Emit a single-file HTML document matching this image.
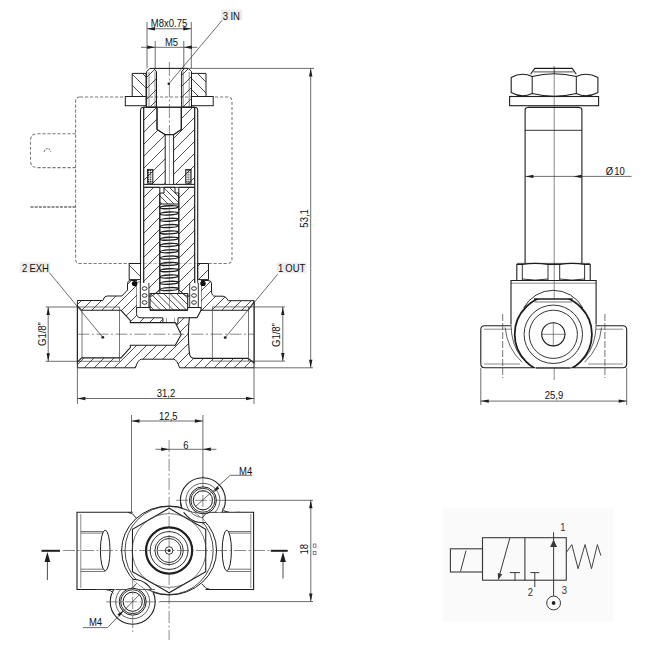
<!DOCTYPE html>
<html><head><meta charset="utf-8"><style>
html,body{margin:0;padding:0;background:#fff;}
svg{display:block;font-family:"Liberation Sans",sans-serif;}
</style></head><body>
<svg width="657" height="650" viewBox="0 0 657 650">
<defs><pattern id="dots" width="2.2" height="2.2" patternUnits="userSpaceOnUse"><circle cx="1.1" cy="1.1" r="0.75" fill="#111"/></pattern></defs>
<path d="M80,97 H227.5 Q232,97 232,101.5 V259 Q232,263.5 227.5,263.5 H80 Q75.6,263.5 75.6,259 V101.5 Q75.6,97 80,97 Z" stroke="#7a7a7a" stroke-width="1.05" fill="none" stroke-dasharray="3.2,1.8" />
<path d="M75.6,133.8 H37.5 Q30.5,133.8 30.5,140.8 V160.6 Q30.5,167.6 37.5,167.6 H75.6" stroke="#7a7a7a" stroke-width="1.05" fill="none" stroke-dasharray="3.2,1.8" />
<path d="M44.3,151.8 A3.2,3.2 0 1 1 50.7,151.8" stroke="#555" stroke-width="1.0" fill="none" stroke-dasharray="2,1" />
<line x1="30.50" y1="207.00" x2="75.60" y2="207.00" stroke="#707070" stroke-width="1.6" stroke-dasharray="3,1.2" stroke-linecap="butt"/>
<path d="M140.5,263.5 V110.5 Q140.5,107.2 143.7,107.2 H194.5 Q197.7,107.2 197.7,110.5 V263.5" stroke="#1e1e1e" stroke-width="1.1" fill="#fff" />
<line x1="143.70" y1="107.20" x2="143.70" y2="300.00" stroke="#3c3c3c" stroke-width="0.8" stroke-linecap="butt"/>
<line x1="194.70" y1="107.20" x2="194.70" y2="300.00" stroke="#3c3c3c" stroke-width="0.8" stroke-linecap="butt"/>
<clipPath id="h1"><path d="M143.7,107.2 H157 V129.5 L165.2,134.6 V184.4 H143.7 Z"/></clipPath><g clip-path="url(#h1)"><line x1="134.8" y1="105.2" x2="53.6" y2="186.4" stroke="#3c3c3c" stroke-width="0.9"/><line x1="146.8" y1="105.2" x2="65.6" y2="186.4" stroke="#3c3c3c" stroke-width="0.9"/><line x1="158.8" y1="105.2" x2="77.6" y2="186.4" stroke="#3c3c3c" stroke-width="0.9"/><line x1="170.8" y1="105.2" x2="89.6" y2="186.4" stroke="#3c3c3c" stroke-width="0.9"/><line x1="182.8" y1="105.2" x2="101.6" y2="186.4" stroke="#3c3c3c" stroke-width="0.9"/><line x1="194.8" y1="105.2" x2="113.6" y2="186.4" stroke="#3c3c3c" stroke-width="0.9"/><line x1="206.8" y1="105.2" x2="125.6" y2="186.4" stroke="#3c3c3c" stroke-width="0.9"/><line x1="218.8" y1="105.2" x2="137.6" y2="186.4" stroke="#3c3c3c" stroke-width="0.9"/><line x1="230.8" y1="105.2" x2="149.6" y2="186.4" stroke="#3c3c3c" stroke-width="0.9"/><line x1="242.8" y1="105.2" x2="161.6" y2="186.4" stroke="#3c3c3c" stroke-width="0.9"/><line x1="254.8" y1="105.2" x2="173.6" y2="186.4" stroke="#3c3c3c" stroke-width="0.9"/></g>
<path d="M143.7,107.2 H157 V129.5 L165.2,134.6 V184.4 H143.7 Z" stroke="#1e1e1e" stroke-width="1.0" fill="none" />
<clipPath id="h2"><path d="M181.3,107.2 H194.7 V184.4 H173.6 V134.6 L181.3,129.5 Z"/></clipPath><g clip-path="url(#h2)"><line x1="170.8" y1="105.2" x2="89.6" y2="186.4" stroke="#3c3c3c" stroke-width="0.9"/><line x1="182.8" y1="105.2" x2="101.6" y2="186.4" stroke="#3c3c3c" stroke-width="0.9"/><line x1="194.8" y1="105.2" x2="113.6" y2="186.4" stroke="#3c3c3c" stroke-width="0.9"/><line x1="206.8" y1="105.2" x2="125.6" y2="186.4" stroke="#3c3c3c" stroke-width="0.9"/><line x1="218.8" y1="105.2" x2="137.6" y2="186.4" stroke="#3c3c3c" stroke-width="0.9"/><line x1="230.8" y1="105.2" x2="149.6" y2="186.4" stroke="#3c3c3c" stroke-width="0.9"/><line x1="242.8" y1="105.2" x2="161.6" y2="186.4" stroke="#3c3c3c" stroke-width="0.9"/><line x1="254.8" y1="105.2" x2="173.6" y2="186.4" stroke="#3c3c3c" stroke-width="0.9"/><line x1="266.8" y1="105.2" x2="185.6" y2="186.4" stroke="#3c3c3c" stroke-width="0.9"/><line x1="278.8" y1="105.2" x2="197.6" y2="186.4" stroke="#3c3c3c" stroke-width="0.9"/></g>
<path d="M181.3,107.2 H194.7 V184.4 H173.6 V134.6 L181.3,129.5 Z" stroke="#1e1e1e" stroke-width="1.0" fill="none" />
<line x1="157.00" y1="107.20" x2="181.30" y2="107.20" stroke="#1e1e1e" stroke-width="1.0" stroke-linecap="butt"/>
<line x1="169.40" y1="136.00" x2="169.40" y2="184.00" stroke="#3c3c3c" stroke-width="0.5" stroke-linecap="butt"/>
<rect x="147.5" y="169.4" width="5.40" height="13.80" rx="0" stroke="#1e1e1e" stroke-width="0.9" fill="url(#dots)"/>
<rect x="185.7" y="169.4" width="5.40" height="13.80" rx="0" stroke="#1e1e1e" stroke-width="0.9" fill="url(#dots)"/>
<rect x="143.7" y="184.4" width="51.00" height="2.90" rx="0" stroke="#1e1e1e" stroke-width="0.9" fill="#fff"/>
<clipPath id="h3"><path d="M132.2,73.4 H146 V96.5 H132.2 Z"/></clipPath><g clip-path="url(#h3)"><line x1="96.4" y1="71.4" x2="123.5" y2="98.5" stroke="#3c3c3c" stroke-width="0.9"/><line x1="107.4" y1="71.4" x2="134.5" y2="98.5" stroke="#3c3c3c" stroke-width="0.9"/><line x1="118.4" y1="71.4" x2="145.5" y2="98.5" stroke="#3c3c3c" stroke-width="0.9"/><line x1="129.4" y1="71.4" x2="156.5" y2="98.5" stroke="#3c3c3c" stroke-width="0.9"/><line x1="140.4" y1="71.4" x2="167.5" y2="98.5" stroke="#3c3c3c" stroke-width="0.9"/><line x1="151.4" y1="71.4" x2="178.5" y2="98.5" stroke="#3c3c3c" stroke-width="0.9"/></g>
<path d="M132.2,73.4 H146 V96.5 H132.2 Z" stroke="#1e1e1e" stroke-width="1.0" fill="none" />
<clipPath id="h4"><path d="M191.5,73.4 H206 V96.5 H191.5 Z"/></clipPath><g clip-path="url(#h4)"><line x1="162.4" y1="71.4" x2="189.5" y2="98.5" stroke="#3c3c3c" stroke-width="0.9"/><line x1="173.4" y1="71.4" x2="200.5" y2="98.5" stroke="#3c3c3c" stroke-width="0.9"/><line x1="184.4" y1="71.4" x2="211.5" y2="98.5" stroke="#3c3c3c" stroke-width="0.9"/><line x1="195.4" y1="71.4" x2="222.5" y2="98.5" stroke="#3c3c3c" stroke-width="0.9"/><line x1="206.4" y1="71.4" x2="233.5" y2="98.5" stroke="#3c3c3c" stroke-width="0.9"/><line x1="217.4" y1="71.4" x2="244.5" y2="98.5" stroke="#3c3c3c" stroke-width="0.9"/></g>
<path d="M191.5,73.4 H206 V96.5 H191.5 Z" stroke="#1e1e1e" stroke-width="1.0" fill="none" />
<rect x="125.3" y="96.5" width="20.70" height="9.20" rx="0" stroke="#1e1e1e" stroke-width="1.0" fill="#fff"/>
<rect x="191.5" y="96.5" width="21.70" height="9.20" rx="0" stroke="#1e1e1e" stroke-width="1.0" fill="#fff"/>
<clipPath id="h5"><path d="M146.6,107.2 V71.6 L149.8,68.4 H153.5 L156.5,71.4 V107.2 Z"/></clipPath><g clip-path="url(#h5)"><line x1="146.6" y1="66.4" x2="103.8" y2="109.2" stroke="#3c3c3c" stroke-width="0.9"/><line x1="157.6" y1="66.4" x2="114.8" y2="109.2" stroke="#3c3c3c" stroke-width="0.9"/><line x1="168.6" y1="66.4" x2="125.8" y2="109.2" stroke="#3c3c3c" stroke-width="0.9"/><line x1="179.6" y1="66.4" x2="136.8" y2="109.2" stroke="#3c3c3c" stroke-width="0.9"/><line x1="190.6" y1="66.4" x2="147.8" y2="109.2" stroke="#3c3c3c" stroke-width="0.9"/><line x1="201.6" y1="66.4" x2="158.8" y2="109.2" stroke="#3c3c3c" stroke-width="0.9"/></g>
<path d="M146.6,107.2 V71.6 L149.8,68.4 H153.5 L156.5,71.4 V107.2 Z" stroke="#1e1e1e" stroke-width="1.0" fill="none" />
<clipPath id="h6"><path d="M181.6,107.2 V71.4 L184.6,68.4 H188.3 L191.5,71.6 V107.2 Z"/></clipPath><g clip-path="url(#h6)"><line x1="179.6" y1="66.4" x2="136.8" y2="109.2" stroke="#3c3c3c" stroke-width="0.9"/><line x1="190.6" y1="66.4" x2="147.8" y2="109.2" stroke="#3c3c3c" stroke-width="0.9"/><line x1="201.6" y1="66.4" x2="158.8" y2="109.2" stroke="#3c3c3c" stroke-width="0.9"/><line x1="212.6" y1="66.4" x2="169.8" y2="109.2" stroke="#3c3c3c" stroke-width="0.9"/><line x1="223.6" y1="66.4" x2="180.8" y2="109.2" stroke="#3c3c3c" stroke-width="0.9"/><line x1="234.6" y1="66.4" x2="191.8" y2="109.2" stroke="#3c3c3c" stroke-width="0.9"/><line x1="245.6" y1="66.4" x2="202.8" y2="109.2" stroke="#3c3c3c" stroke-width="0.9"/></g>
<path d="M181.6,107.2 V71.4 L184.6,68.4 H188.3 L191.5,71.6 V107.2 Z" stroke="#1e1e1e" stroke-width="1.0" fill="none" />
<line x1="149.00" y1="72.00" x2="149.00" y2="107.00" stroke="#3c3c3c" stroke-width="0.6" stroke-linecap="butt"/>
<line x1="155.00" y1="71.00" x2="155.00" y2="107.00" stroke="#3c3c3c" stroke-width="0.6" stroke-linecap="butt"/>
<line x1="183.20" y1="71.00" x2="183.20" y2="107.00" stroke="#3c3c3c" stroke-width="0.6" stroke-linecap="butt"/>
<line x1="189.20" y1="72.00" x2="189.20" y2="107.00" stroke="#3c3c3c" stroke-width="0.6" stroke-linecap="butt"/>
<line x1="153.50" y1="68.40" x2="184.60" y2="68.40" stroke="#1e1e1e" stroke-width="1.1" stroke-linecap="butt"/>
<path d="M157,107.2 V129.5 L165.2,134.6 H173.6 L181.3,129.5 V107.2" stroke="#1e1e1e" stroke-width="1.1" fill="none" />
<line x1="169.40" y1="62.00" x2="169.40" y2="136.00" stroke="#3c3c3c" stroke-width="0.6" stroke-dasharray="14,2.5,2,2.5" stroke-linecap="butt"/>
<circle cx="168.8" cy="83.8" r="1.3" stroke="#1e1e1e" stroke-width="0" fill="#1e1e1e"/>
<clipPath id="h7"><path d="M143.7,187.3 H159.8 V290 L152,296 H143.7 Z"/></clipPath><g clip-path="url(#h7)"><line x1="143.7" y1="185.3" x2="31.0" y2="298.0" stroke="#3c3c3c" stroke-width="0.9"/><line x1="155.7" y1="185.3" x2="43.0" y2="298.0" stroke="#3c3c3c" stroke-width="0.9"/><line x1="167.7" y1="185.3" x2="55.0" y2="298.0" stroke="#3c3c3c" stroke-width="0.9"/><line x1="179.7" y1="185.3" x2="67.0" y2="298.0" stroke="#3c3c3c" stroke-width="0.9"/><line x1="191.7" y1="185.3" x2="79.0" y2="298.0" stroke="#3c3c3c" stroke-width="0.9"/><line x1="203.7" y1="185.3" x2="91.0" y2="298.0" stroke="#3c3c3c" stroke-width="0.9"/><line x1="215.7" y1="185.3" x2="103.0" y2="298.0" stroke="#3c3c3c" stroke-width="0.9"/><line x1="227.7" y1="185.3" x2="115.0" y2="298.0" stroke="#3c3c3c" stroke-width="0.9"/><line x1="239.7" y1="185.3" x2="127.0" y2="298.0" stroke="#3c3c3c" stroke-width="0.9"/><line x1="251.7" y1="185.3" x2="139.0" y2="298.0" stroke="#3c3c3c" stroke-width="0.9"/><line x1="263.7" y1="185.3" x2="151.0" y2="298.0" stroke="#3c3c3c" stroke-width="0.9"/><line x1="275.7" y1="185.3" x2="163.0" y2="298.0" stroke="#3c3c3c" stroke-width="0.9"/></g>
<path d="M143.7,187.3 H159.8 V290 L152,296 H143.7 Z" stroke="#1e1e1e" stroke-width="1.0" fill="none" />
<clipPath id="h8"><path d="M178.8,187.3 H194.7 V296 H186 L178.8,290 Z"/></clipPath><g clip-path="url(#h8)"><line x1="179.7" y1="185.3" x2="67.0" y2="298.0" stroke="#3c3c3c" stroke-width="0.9"/><line x1="191.7" y1="185.3" x2="79.0" y2="298.0" stroke="#3c3c3c" stroke-width="0.9"/><line x1="203.7" y1="185.3" x2="91.0" y2="298.0" stroke="#3c3c3c" stroke-width="0.9"/><line x1="215.7" y1="185.3" x2="103.0" y2="298.0" stroke="#3c3c3c" stroke-width="0.9"/><line x1="227.7" y1="185.3" x2="115.0" y2="298.0" stroke="#3c3c3c" stroke-width="0.9"/><line x1="239.7" y1="185.3" x2="127.0" y2="298.0" stroke="#3c3c3c" stroke-width="0.9"/><line x1="251.7" y1="185.3" x2="139.0" y2="298.0" stroke="#3c3c3c" stroke-width="0.9"/><line x1="263.7" y1="185.3" x2="151.0" y2="298.0" stroke="#3c3c3c" stroke-width="0.9"/><line x1="275.7" y1="185.3" x2="163.0" y2="298.0" stroke="#3c3c3c" stroke-width="0.9"/><line x1="287.7" y1="185.3" x2="175.0" y2="298.0" stroke="#3c3c3c" stroke-width="0.9"/><line x1="299.7" y1="185.3" x2="187.0" y2="298.0" stroke="#3c3c3c" stroke-width="0.9"/><line x1="311.7" y1="185.3" x2="199.0" y2="298.0" stroke="#3c3c3c" stroke-width="0.9"/></g>
<path d="M178.8,187.3 H194.7 V296 H186 L178.8,290 Z" stroke="#1e1e1e" stroke-width="1.0" fill="none" />
<clipPath id="h9"><path d="M159.8,193 H164 V187.3 H175 V193 H178.8 V204 H159.8 Z"/></clipPath><g clip-path="url(#h9)"><line x1="131.3" y1="185.3" x2="152.0" y2="206.0" stroke="#3c3c3c" stroke-width="0.9"/><line x1="137.3" y1="185.3" x2="158.0" y2="206.0" stroke="#3c3c3c" stroke-width="0.9"/><line x1="143.3" y1="185.3" x2="164.0" y2="206.0" stroke="#3c3c3c" stroke-width="0.9"/><line x1="149.3" y1="185.3" x2="170.0" y2="206.0" stroke="#3c3c3c" stroke-width="0.9"/><line x1="155.3" y1="185.3" x2="176.0" y2="206.0" stroke="#3c3c3c" stroke-width="0.9"/><line x1="161.3" y1="185.3" x2="182.0" y2="206.0" stroke="#3c3c3c" stroke-width="0.9"/><line x1="167.3" y1="185.3" x2="188.0" y2="206.0" stroke="#3c3c3c" stroke-width="0.9"/><line x1="173.3" y1="185.3" x2="194.0" y2="206.0" stroke="#3c3c3c" stroke-width="0.9"/><line x1="179.3" y1="185.3" x2="200.0" y2="206.0" stroke="#3c3c3c" stroke-width="0.9"/><line x1="185.3" y1="185.3" x2="206.0" y2="206.0" stroke="#3c3c3c" stroke-width="0.9"/></g>
<path d="M159.8,193 H164 V187.3 H175 V193 H178.8 V204 H159.8 Z" stroke="#1e1e1e" stroke-width="1.0" fill="none" />
<line x1="159.80" y1="204.00" x2="159.80" y2="293.50" stroke="#1e1e1e" stroke-width="1.0" stroke-linecap="butt"/>
<line x1="178.80" y1="204.00" x2="178.80" y2="293.50" stroke="#1e1e1e" stroke-width="1.0" stroke-linecap="butt"/>
<ellipse cx="169.2" cy="207.20" rx="9.1" ry="1.45" transform="rotate(-3 169.2 207.20)" stroke="#1e1e1e" stroke-width="1.4" fill="none"/>
<ellipse cx="169.2" cy="213.50" rx="9.1" ry="1.45" transform="rotate(-3 169.2 213.50)" stroke="#1e1e1e" stroke-width="1.4" fill="none"/>
<ellipse cx="169.2" cy="219.80" rx="9.1" ry="1.45" transform="rotate(-3 169.2 219.80)" stroke="#1e1e1e" stroke-width="1.4" fill="none"/>
<ellipse cx="169.2" cy="226.10" rx="9.1" ry="1.45" transform="rotate(-3 169.2 226.10)" stroke="#1e1e1e" stroke-width="1.4" fill="none"/>
<ellipse cx="169.2" cy="232.40" rx="9.1" ry="1.45" transform="rotate(-3 169.2 232.40)" stroke="#1e1e1e" stroke-width="1.4" fill="none"/>
<ellipse cx="169.2" cy="238.70" rx="9.1" ry="1.45" transform="rotate(-3 169.2 238.70)" stroke="#1e1e1e" stroke-width="1.4" fill="none"/>
<ellipse cx="169.2" cy="245.00" rx="9.1" ry="1.45" transform="rotate(-3 169.2 245.00)" stroke="#1e1e1e" stroke-width="1.4" fill="none"/>
<ellipse cx="169.2" cy="251.30" rx="9.1" ry="1.45" transform="rotate(-3 169.2 251.30)" stroke="#1e1e1e" stroke-width="1.4" fill="none"/>
<ellipse cx="169.2" cy="257.60" rx="9.1" ry="1.45" transform="rotate(-3 169.2 257.60)" stroke="#1e1e1e" stroke-width="1.4" fill="none"/>
<ellipse cx="169.2" cy="263.90" rx="9.1" ry="1.45" transform="rotate(-3 169.2 263.90)" stroke="#1e1e1e" stroke-width="1.4" fill="none"/>
<ellipse cx="169.2" cy="270.20" rx="9.1" ry="1.45" transform="rotate(-3 169.2 270.20)" stroke="#1e1e1e" stroke-width="1.4" fill="none"/>
<ellipse cx="169.2" cy="276.50" rx="9.1" ry="1.45" transform="rotate(-3 169.2 276.50)" stroke="#1e1e1e" stroke-width="1.4" fill="none"/>
<ellipse cx="169.2" cy="282.80" rx="9.1" ry="1.45" transform="rotate(-3 169.2 282.80)" stroke="#1e1e1e" stroke-width="1.4" fill="none"/>
<ellipse cx="169.2" cy="289.10" rx="9.1" ry="1.45" transform="rotate(-3 169.2 289.10)" stroke="#1e1e1e" stroke-width="1.4" fill="none"/>
<line x1="169.30" y1="204.00" x2="169.30" y2="293.00" stroke="#3c3c3c" stroke-width="0.5" stroke-linecap="butt"/>
<clipPath id="h10"><path d="M77.4,300.5 H102.8 Q104.2,296 107,296 H121.8 L127.5,290 V283.5 Q127.5,280.5 130.5,280.5 H137 V310 H201 V280.5 H208 Q211.5,280.5 211.5,283.5 V291 Q211.5,296.2 215,296.2 H223 Q226,296.2 228.3,300.7 H254 V367.8 H179.6 Q176.8,359.2 173.5,359.2 H141.5 Q138.2,359.2 135.4,367.8 H77.4 Z"/></clipPath><g clip-path="url(#h10)"><line x1="73.5" y1="278.5" x2="-17.8" y2="369.8" stroke="#3c3c3c" stroke-width="0.9"/><line x1="83.5" y1="278.5" x2="-7.8" y2="369.8" stroke="#3c3c3c" stroke-width="0.9"/><line x1="93.5" y1="278.5" x2="2.2" y2="369.8" stroke="#3c3c3c" stroke-width="0.9"/><line x1="103.5" y1="278.5" x2="12.2" y2="369.8" stroke="#3c3c3c" stroke-width="0.9"/><line x1="113.5" y1="278.5" x2="22.2" y2="369.8" stroke="#3c3c3c" stroke-width="0.9"/><line x1="123.5" y1="278.5" x2="32.2" y2="369.8" stroke="#3c3c3c" stroke-width="0.9"/><line x1="133.5" y1="278.5" x2="42.2" y2="369.8" stroke="#3c3c3c" stroke-width="0.9"/><line x1="143.5" y1="278.5" x2="52.2" y2="369.8" stroke="#3c3c3c" stroke-width="0.9"/><line x1="153.5" y1="278.5" x2="62.2" y2="369.8" stroke="#3c3c3c" stroke-width="0.9"/><line x1="163.5" y1="278.5" x2="72.2" y2="369.8" stroke="#3c3c3c" stroke-width="0.9"/><line x1="173.5" y1="278.5" x2="82.2" y2="369.8" stroke="#3c3c3c" stroke-width="0.9"/><line x1="183.5" y1="278.5" x2="92.2" y2="369.8" stroke="#3c3c3c" stroke-width="0.9"/><line x1="193.5" y1="278.5" x2="102.2" y2="369.8" stroke="#3c3c3c" stroke-width="0.9"/><line x1="203.5" y1="278.5" x2="112.2" y2="369.8" stroke="#3c3c3c" stroke-width="0.9"/><line x1="213.5" y1="278.5" x2="122.2" y2="369.8" stroke="#3c3c3c" stroke-width="0.9"/><line x1="223.5" y1="278.5" x2="132.2" y2="369.8" stroke="#3c3c3c" stroke-width="0.9"/><line x1="233.5" y1="278.5" x2="142.2" y2="369.8" stroke="#3c3c3c" stroke-width="0.9"/><line x1="243.5" y1="278.5" x2="152.2" y2="369.8" stroke="#3c3c3c" stroke-width="0.9"/><line x1="253.5" y1="278.5" x2="162.2" y2="369.8" stroke="#3c3c3c" stroke-width="0.9"/><line x1="263.5" y1="278.5" x2="172.2" y2="369.8" stroke="#3c3c3c" stroke-width="0.9"/><line x1="273.5" y1="278.5" x2="182.2" y2="369.8" stroke="#3c3c3c" stroke-width="0.9"/><line x1="283.5" y1="278.5" x2="192.2" y2="369.8" stroke="#3c3c3c" stroke-width="0.9"/><line x1="293.5" y1="278.5" x2="202.2" y2="369.8" stroke="#3c3c3c" stroke-width="0.9"/><line x1="303.5" y1="278.5" x2="212.2" y2="369.8" stroke="#3c3c3c" stroke-width="0.9"/><line x1="313.5" y1="278.5" x2="222.2" y2="369.8" stroke="#3c3c3c" stroke-width="0.9"/><line x1="323.5" y1="278.5" x2="232.2" y2="369.8" stroke="#3c3c3c" stroke-width="0.9"/><line x1="333.5" y1="278.5" x2="242.2" y2="369.8" stroke="#3c3c3c" stroke-width="0.9"/><line x1="343.5" y1="278.5" x2="252.2" y2="369.8" stroke="#3c3c3c" stroke-width="0.9"/><line x1="353.5" y1="278.5" x2="262.2" y2="369.8" stroke="#3c3c3c" stroke-width="0.9"/></g>
<path d="M77.4,300.5 H102.8 Q104.2,296 107,296 H121.8 L127.5,290 V283.5 Q127.5,280.5 130.5,280.5 H137 V310 H201 V280.5 H208 Q211.5,280.5 211.5,283.5 V291 Q211.5,296.2 215,296.2 H223 Q226,296.2 228.3,300.7 H254 V367.8 H179.6 Q176.8,359.2 173.5,359.2 H141.5 Q138.2,359.2 135.4,367.8 H77.4 Z" stroke="#1e1e1e" stroke-width="1.0" fill="none" />
<clipPath id="h11"><path d="M129.2,263.5 H140.5 V279.6 H129.2 Z"/></clipPath><g clip-path="url(#h11)"><line x1="97.5" y1="261.5" x2="117.6" y2="281.6" stroke="#3c3c3c" stroke-width="0.9"/><line x1="111.5" y1="261.5" x2="131.6" y2="281.6" stroke="#3c3c3c" stroke-width="0.9"/><line x1="125.5" y1="261.5" x2="145.6" y2="281.6" stroke="#3c3c3c" stroke-width="0.9"/><line x1="139.5" y1="261.5" x2="159.6" y2="281.6" stroke="#3c3c3c" stroke-width="0.9"/><line x1="153.5" y1="261.5" x2="173.6" y2="281.6" stroke="#3c3c3c" stroke-width="0.9"/></g>
<path d="M129.2,263.5 H140.5 V279.6 H129.2 Z" stroke="#1e1e1e" stroke-width="1.0" fill="none" />
<clipPath id="h12"><path d="M197.7,263.5 H208.5 V279.6 H197.7 Z"/></clipPath><g clip-path="url(#h12)"><line x1="188.5" y1="261.5" x2="168.4" y2="281.6" stroke="#3c3c3c" stroke-width="0.9"/><line x1="202.5" y1="261.5" x2="182.4" y2="281.6" stroke="#3c3c3c" stroke-width="0.9"/><line x1="216.5" y1="261.5" x2="196.4" y2="281.6" stroke="#3c3c3c" stroke-width="0.9"/><line x1="230.5" y1="261.5" x2="210.4" y2="281.6" stroke="#3c3c3c" stroke-width="0.9"/><line x1="244.5" y1="261.5" x2="224.4" y2="281.6" stroke="#3c3c3c" stroke-width="0.9"/></g>
<path d="M197.7,263.5 H208.5 V279.6 H197.7 Z" stroke="#1e1e1e" stroke-width="1.0" fill="none" />
<path d="M137,280.5 H140.5 V296 H143.7 V300 H149.5 V307.5 H137 Z" stroke="#1e1e1e" stroke-width="0" fill="#fff" />
<path d="M201,280.5 H197.7 V296 H194.7 V300 H189 V307.5 H201 Z" stroke="#1e1e1e" stroke-width="0" fill="#fff" />
<line x1="140.50" y1="263.50" x2="140.50" y2="300.00" stroke="#1e1e1e" stroke-width="0.9" stroke-linecap="butt"/>
<line x1="197.70" y1="263.50" x2="197.70" y2="300.00" stroke="#1e1e1e" stroke-width="0.9" stroke-linecap="butt"/>
<path d="M140.3,283 V307.5 H148.9 V283" stroke="#1e1e1e" stroke-width="0.9" fill="#fff" />
<ellipse cx="144.60000000000002" cy="288.5" rx="2.4" ry="1.8" stroke="#1e1e1e" stroke-width="0.9" fill="none"/>
<ellipse cx="144.60000000000002" cy="295.5" rx="2.4" ry="1.8" stroke="#1e1e1e" stroke-width="0.9" fill="none"/>
<ellipse cx="144.60000000000002" cy="302.5" rx="2.4" ry="1.8" stroke="#1e1e1e" stroke-width="0.9" fill="none"/>
<path d="M189.7,283 V307.5 H198.29999999999998 V283" stroke="#1e1e1e" stroke-width="0.9" fill="#fff" />
<ellipse cx="194.0" cy="288.5" rx="2.4" ry="1.8" stroke="#1e1e1e" stroke-width="0.9" fill="none"/>
<ellipse cx="194.0" cy="295.5" rx="2.4" ry="1.8" stroke="#1e1e1e" stroke-width="0.9" fill="none"/>
<ellipse cx="194.0" cy="302.5" rx="2.4" ry="1.8" stroke="#1e1e1e" stroke-width="0.9" fill="none"/>
<path d="M137,283 Q139,280 141,283" stroke="#1e1e1e" stroke-width="0.7" fill="none" />
<circle cx="134.6" cy="283.6" r="2.7" stroke="#1e1e1e" stroke-width="0" fill="#0a0a0a"/>
<circle cx="203" cy="283.4" r="2.7" stroke="#1e1e1e" stroke-width="0" fill="#0a0a0a"/>
<clipPath id="h13"><path d="M150,293.5 H187.7 V310.4 H150 Z"/></clipPath><g clip-path="url(#h13)"><line x1="122.5" y1="291.5" x2="143.4" y2="312.4" stroke="#3c3c3c" stroke-width="0.9"/><line x1="129.0" y1="291.5" x2="149.9" y2="312.4" stroke="#3c3c3c" stroke-width="0.9"/><line x1="135.5" y1="291.5" x2="156.4" y2="312.4" stroke="#3c3c3c" stroke-width="0.9"/><line x1="142.0" y1="291.5" x2="162.9" y2="312.4" stroke="#3c3c3c" stroke-width="0.9"/><line x1="148.5" y1="291.5" x2="169.4" y2="312.4" stroke="#3c3c3c" stroke-width="0.9"/><line x1="155.0" y1="291.5" x2="175.9" y2="312.4" stroke="#3c3c3c" stroke-width="0.9"/><line x1="161.5" y1="291.5" x2="182.4" y2="312.4" stroke="#3c3c3c" stroke-width="0.9"/><line x1="168.0" y1="291.5" x2="188.9" y2="312.4" stroke="#3c3c3c" stroke-width="0.9"/><line x1="174.5" y1="291.5" x2="195.4" y2="312.4" stroke="#3c3c3c" stroke-width="0.9"/><line x1="181.0" y1="291.5" x2="201.9" y2="312.4" stroke="#3c3c3c" stroke-width="0.9"/><line x1="187.5" y1="291.5" x2="208.4" y2="312.4" stroke="#3c3c3c" stroke-width="0.9"/><line x1="194.0" y1="291.5" x2="214.9" y2="312.4" stroke="#3c3c3c" stroke-width="0.9"/></g>
<path d="M150,293.5 H187.7 V310.4 H150 Z" stroke="#1e1e1e" stroke-width="1.1" fill="none" />
<line x1="169.40" y1="293.50" x2="169.40" y2="310.40" stroke="#3c3c3c" stroke-width="0.5" stroke-linecap="butt"/>
<path d="M136.6,307.5 H150 V310.4 H187.7 V307.5 H201 V313 L197,317.8 H178 V322 Q178,324.2 175.5,324.2 H165.5 Q162.9,324.2 162.9,322 V317.8 H141 Q136.6,317.8 136.6,313.5 Z" stroke="#1e1e1e" stroke-width="1.0" fill="#fff" />
<line x1="166.50" y1="317.80" x2="166.50" y2="324.00" stroke="#3c3c3c" stroke-width="0.5" stroke-linecap="butt"/>
<line x1="174.50" y1="317.80" x2="174.50" y2="324.00" stroke="#3c3c3c" stroke-width="0.5" stroke-linecap="butt"/>
<path d="M77.4,306 L81.7,310.3 H121 L130.3,320.5 V322.6 H175.3 L181.2,334.5 L175.3,345.3 H130.3 V347.5 L121,357.9 H81.7 L77.4,362.2 Z" stroke="#1e1e1e" stroke-width="1.1" fill="#fff" />
<path d="M254,302 L248,310.2 H201 L197,317.8 H189.3 Q187.5,334 189.3,352 Q189.3,358.4 195,358.4 H248 L254,362.8 Z" stroke="#1e1e1e" stroke-width="1.1" fill="#fff" />
<line x1="77.40" y1="307.00" x2="119.50" y2="307.00" stroke="#3c3c3c" stroke-width="0.7" stroke-linecap="butt"/>
<line x1="77.40" y1="361.30" x2="119.50" y2="361.30" stroke="#3c3c3c" stroke-width="0.7" stroke-linecap="butt"/>
<line x1="82.00" y1="310.30" x2="82.00" y2="357.90" stroke="#3c3c3c" stroke-width="0.7" stroke-linecap="butt"/>
<line x1="119.50" y1="307.00" x2="119.50" y2="361.30" stroke="#3c3c3c" stroke-width="0.7" stroke-linecap="butt"/>
<line x1="212.40" y1="306.90" x2="254.00" y2="306.90" stroke="#3c3c3c" stroke-width="0.7" stroke-linecap="butt"/>
<line x1="212.40" y1="361.10" x2="254.00" y2="361.10" stroke="#3c3c3c" stroke-width="0.7" stroke-linecap="butt"/>
<line x1="212.40" y1="306.90" x2="212.40" y2="361.10" stroke="#3c3c3c" stroke-width="0.7" stroke-linecap="butt"/>
<line x1="248.50" y1="306.90" x2="248.50" y2="361.10" stroke="#3c3c3c" stroke-width="0.7" stroke-linecap="butt"/>
<line x1="77.40" y1="334.20" x2="254.00" y2="334.20" stroke="#3c3c3c" stroke-width="0.6" stroke-dasharray="12,2.5,2,2.5" stroke-linecap="butt"/>
<circle cx="102.8" cy="337.3" r="1.4" stroke="#1e1e1e" stroke-width="0" fill="#1e1e1e"/>
<circle cx="225.2" cy="337.6" r="1.4" stroke="#1e1e1e" stroke-width="0" fill="#1e1e1e"/>
<line x1="147.00" y1="22.00" x2="147.00" y2="68.40" stroke="#3c3c3c" stroke-width="0.75" stroke-linecap="butt"/>
<line x1="191.30" y1="22.00" x2="191.30" y2="68.40" stroke="#3c3c3c" stroke-width="0.75" stroke-linecap="butt"/>
<line x1="147.00" y1="28.80" x2="191.30" y2="28.80" stroke="#3c3c3c" stroke-width="0.75" stroke-linecap="butt"/>
<path d="M147.00,28.80 L155.00,27.10 L155.00,30.50 Z" fill="#1e1e1e" stroke="none"/>
<path d="M191.30,28.80 L183.30,30.50 L183.30,27.10 Z" fill="#1e1e1e" stroke="none"/>
<text x="0" y="0" font-size="10" text-anchor="middle" fill="#111" stroke="#111" stroke-width="0.0" transform="translate(169 26.5) scale(0.95 1)">M8x0.75</text>
<line x1="155.20" y1="41.00" x2="155.20" y2="68.40" stroke="#3c3c3c" stroke-width="0.75" stroke-linecap="butt"/>
<line x1="183.80" y1="41.00" x2="183.80" y2="68.40" stroke="#3c3c3c" stroke-width="0.75" stroke-linecap="butt"/>
<line x1="141.00" y1="47.30" x2="197.40" y2="47.30" stroke="#3c3c3c" stroke-width="0.75" stroke-linecap="butt"/>
<path d="M155.20,47.30 L147.20,49.00 L147.20,45.60 Z" fill="#1e1e1e" stroke="none"/>
<path d="M183.80,47.30 L191.80,45.60 L191.80,49.00 Z" fill="#1e1e1e" stroke="none"/>
<text x="0" y="0" font-size="10" text-anchor="middle" fill="#111" stroke="#111" stroke-width="0.0" transform="translate(171.5 45.9) scale(0.95 1)">M5</text>
<rect x="221" y="9.5" width="21.00" height="11.00" rx="0" stroke="#1e1e1e" stroke-width="0" fill="#ececec"/>
<text x="0" y="0" font-size="10" text-anchor="middle" fill="#111" stroke="#111" stroke-width="0.0" transform="translate(231.3 20.1) scale(0.95 1)">3<tspan dx="-0.2"> </tspan>IN</text>
<line x1="222.00" y1="20.50" x2="168.80" y2="83.80" stroke="#3c3c3c" stroke-width="0.75" stroke-linecap="butt"/>
<line x1="184.60" y1="68.40" x2="314.00" y2="68.40" stroke="#3c3c3c" stroke-width="0.75" stroke-linecap="butt"/>
<line x1="254.00" y1="367.80" x2="313.00" y2="367.80" stroke="#3c3c3c" stroke-width="0.75" stroke-linecap="butt"/>
<line x1="310.70" y1="68.40" x2="310.70" y2="367.80" stroke="#3c3c3c" stroke-width="0.75" stroke-linecap="butt"/>
<path d="M310.70,68.40 L312.40,76.40 L309.00,76.40 Z" fill="#1e1e1e" stroke="none"/>
<path d="M310.70,367.80 L309.00,359.80 L312.40,359.80 Z" fill="#1e1e1e" stroke="none"/>
<text x="0" y="0" font-size="10" text-anchor="middle" fill="#111" stroke="#111" stroke-width="0.0" transform="translate(307.8 218.4) rotate(-90) scale(0.95 1)">53,1</text>
<rect x="276.8" y="262.5" width="29.60" height="10.80" rx="0" stroke="#1e1e1e" stroke-width="0" fill="#ececec"/>
<text x="0" y="0" font-size="10" text-anchor="middle" fill="#111" stroke="#111" stroke-width="0.0" transform="translate(291.7 272.2) scale(0.95 1)">1<tspan dx="-0.6"> </tspan>OUT</text>
<line x1="277.70" y1="274.20" x2="225.20" y2="337.60" stroke="#3c3c3c" stroke-width="0.75" stroke-linecap="butt"/>
<rect x="20.2" y="262.2" width="30.00" height="10.80" rx="0" stroke="#1e1e1e" stroke-width="0" fill="#ececec"/>
<text x="0" y="0" font-size="10" text-anchor="middle" fill="#111" stroke="#111" stroke-width="0.0" transform="translate(35.5 272.2) scale(0.95 1)">2<tspan dx="-0.6"> </tspan>EXH</text>
<line x1="49.50" y1="272.80" x2="102.80" y2="337.30" stroke="#3c3c3c" stroke-width="0.75" stroke-linecap="butt"/>
<line x1="45.70" y1="307.00" x2="77.40" y2="307.00" stroke="#3c3c3c" stroke-width="0.75" stroke-linecap="butt"/>
<line x1="45.70" y1="361.30" x2="77.40" y2="361.30" stroke="#3c3c3c" stroke-width="0.75" stroke-linecap="butt"/>
<line x1="48.20" y1="307.00" x2="48.20" y2="361.30" stroke="#3c3c3c" stroke-width="0.75" stroke-linecap="butt"/>
<path d="M48.20,307.00 L49.90,315.00 L46.50,315.00 Z" fill="#1e1e1e" stroke="none"/>
<path d="M48.20,361.30 L46.50,353.30 L49.90,353.30 Z" fill="#1e1e1e" stroke="none"/>
<text x="0" y="0" font-size="10" text-anchor="middle" fill="#111" stroke="#111" stroke-width="0.0" transform="translate(46 334) rotate(-90) scale(0.95 1)">G1/8"</text>
<line x1="254.00" y1="306.90" x2="285.00" y2="306.90" stroke="#3c3c3c" stroke-width="0.75" stroke-linecap="butt"/>
<line x1="254.00" y1="361.10" x2="285.00" y2="361.10" stroke="#3c3c3c" stroke-width="0.75" stroke-linecap="butt"/>
<line x1="282.80" y1="306.90" x2="282.80" y2="361.10" stroke="#3c3c3c" stroke-width="0.75" stroke-linecap="butt"/>
<path d="M282.80,306.90 L284.50,314.90 L281.10,314.90 Z" fill="#1e1e1e" stroke="none"/>
<path d="M282.80,361.10 L281.10,353.10 L284.50,353.10 Z" fill="#1e1e1e" stroke="none"/>
<text x="0" y="0" font-size="10" text-anchor="middle" fill="#111" stroke="#111" stroke-width="0.0" transform="translate(279.8 335) rotate(-90) scale(0.95 1)">G1/8"</text>
<line x1="77.40" y1="367.80" x2="77.40" y2="404.00" stroke="#3c3c3c" stroke-width="0.75" stroke-linecap="butt"/>
<line x1="254.00" y1="367.80" x2="254.00" y2="404.00" stroke="#3c3c3c" stroke-width="0.75" stroke-linecap="butt"/>
<line x1="77.40" y1="398.50" x2="254.00" y2="398.50" stroke="#3c3c3c" stroke-width="0.75" stroke-linecap="butt"/>
<path d="M77.40,398.50 L85.40,396.80 L85.40,400.20 Z" fill="#1e1e1e" stroke="none"/>
<path d="M254.00,398.50 L246.00,400.20 L246.00,396.80 Z" fill="#1e1e1e" stroke="none"/>
<text x="0" y="0" font-size="10" text-anchor="middle" fill="#111" stroke="#111" stroke-width="0.0" transform="translate(166 396.6) scale(0.95 1)">31,2</text>
<line x1="554.20" y1="66.40" x2="554.20" y2="380.00" stroke="#3c3c3c" stroke-width="0.6" stroke-linecap="butt"/>
<path d="M530.6,74.2 L534.8,68.4 H572.2 L576.3,74.2" stroke="#1e1e1e" stroke-width="1.1" fill="none" />
<line x1="533.50" y1="71.90" x2="573.50" y2="71.90" stroke="#1e1e1e" stroke-width="0.8" stroke-linecap="butt"/>
<path d="M511.2,77.5 Q521.5,71.5 532.2,76.5 Q554,71 576.3,76.5 Q587,71.5 597.9,77.5 V92.5 Q587,98.5 576.3,93.5 Q554,99 532.2,93.5 Q521.5,98.5 511.2,92.5 Z" stroke="#1e1e1e" stroke-width="1.1" fill="#fff" />
<line x1="532.20" y1="76.50" x2="532.20" y2="93.50" stroke="#1e1e1e" stroke-width="1.0" stroke-linecap="butt"/>
<line x1="576.30" y1="76.50" x2="576.30" y2="93.50" stroke="#1e1e1e" stroke-width="1.0" stroke-linecap="butt"/>
<line x1="554.20" y1="66.40" x2="554.20" y2="100.00" stroke="#3c3c3c" stroke-width="0.6" stroke-linecap="butt"/>
<rect x="509.6" y="96.5" width="89.00" height="9.20" rx="0" stroke="#1e1e1e" stroke-width="1.1" fill="#fff"/>
<line x1="554.20" y1="96.00" x2="554.20" y2="106.00" stroke="#3c3c3c" stroke-width="0.6" stroke-linecap="butt"/>
<path d="M525.1,263.2 V110 Q525.1,107.5 528,107.5 H579 Q581.9,107.5 581.9,110 V263.2" stroke="#1e1e1e" stroke-width="1.1" fill="none" />
<line x1="528.00" y1="106.00" x2="579.00" y2="106.00" stroke="#3c3c3c" stroke-width="0.7" stroke-linecap="butt"/>
<line x1="525.10" y1="130.30" x2="581.90" y2="130.30" stroke="#1e1e1e" stroke-width="0.9" stroke-linecap="butt"/>
<line x1="525.10" y1="176.40" x2="631.50" y2="176.40" stroke="#3c3c3c" stroke-width="0.75" stroke-linecap="butt"/>
<path d="M525.40,176.40 L533.40,174.70 L533.40,178.10 Z" fill="#1e1e1e" stroke="none"/>
<path d="M573.50,176.40 L581.50,174.70 L581.50,178.10 Z" fill="#1e1e1e" stroke="none"/>
<text x="0" y="0" font-size="10" text-anchor="middle" fill="#111" stroke="#111" stroke-width="0.0" transform="translate(615.2 174.6) scale(0.95 1)">Ø<tspan dx="1.2">10</tspan></text>
<path d="M516.8,280.1 V264.5 H522.3 Q535.1,262.2 548,264.5 H559.7 Q572.1,262.2 584.6,264.5 H590.2 V280.1" stroke="#1e1e1e" stroke-width="1.1" fill="none" />
<path d="M522.3,279 Q535.1,281.2 548,279 M559.7,279 Q572.1,281.2 584.6,279" stroke="#1e1e1e" stroke-width="0.9" fill="none" />
<line x1="516.80" y1="263.40" x2="590.20" y2="263.40" stroke="#1e1e1e" stroke-width="0.8" stroke-linecap="butt"/>
<line x1="522.30" y1="264.50" x2="522.30" y2="280.10" stroke="#1e1e1e" stroke-width="0.9" stroke-linecap="butt"/>
<line x1="548.00" y1="264.50" x2="548.00" y2="280.10" stroke="#1e1e1e" stroke-width="0.9" stroke-linecap="butt"/>
<line x1="559.70" y1="264.50" x2="559.70" y2="280.10" stroke="#1e1e1e" stroke-width="0.9" stroke-linecap="butt"/>
<line x1="584.60" y1="264.50" x2="584.60" y2="280.10" stroke="#1e1e1e" stroke-width="0.9" stroke-linecap="butt"/>
<line x1="511.00" y1="283.20" x2="596.10" y2="283.20" stroke="#3c3c3c" stroke-width="0.6" stroke-linecap="butt"/>
<path d="M511,324 V280.5 H596.1 V324" stroke="#1e1e1e" stroke-width="1.1" fill="none" />
<path d="M484.8,325.8 H511 M596.1,325.8 H622.7 Q626.7,325.8 626.7,329.8 V363.8 Q626.7,367.8 622.7,367.8 H484.8 Q480.8,367.8 480.8,363.8 V329.8 Q480.8,325.8 484.8,325.8" stroke="#1e1e1e" stroke-width="1.1" fill="none" />
<path d="M484,329.2 H512 M596,329.2 H623 M484,364 H520 M588,364 H623" stroke="#3c3c3c" stroke-width="0.6" fill="none" />
<path d="M511,324 Q511,345 522,358 Q530,366 540,367.8 M596.1,324 Q596.1,345 585,358 Q577,366 567,367.8" stroke="#3c3c3c" stroke-width="0.8" fill="none" />
<path d="M523.7,308 A33.6,33.6 0 0 1 582.9,308" stroke="#1e1e1e" stroke-width="0.9" fill="none" />
<path d="M505.1,327.5 Q507,348 522,362.2 M601.5,327.5 Q599.6,348 584.6,362.2" stroke="#3c3c3c" stroke-width="0.8" fill="none" />
<clipPath id="nutc"><rect x="500" y="299" width="110" height="69"/></clipPath>
<g clip-path="url(#nutc)"><circle cx="553.3" cy="334.3" r="38.6" stroke="#1e1e1e" stroke-width="1.8" fill="#fff"/></g>
<line x1="534.00" y1="299.00" x2="572.60" y2="299.00" stroke="#1e1e1e" stroke-width="1.3" stroke-linecap="butt"/>
<line x1="536.00" y1="367.80" x2="570.60" y2="367.80" stroke="#1e1e1e" stroke-width="1.3" stroke-linecap="butt"/>
<line x1="534.50" y1="302.00" x2="572.00" y2="302.00" stroke="#3c3c3c" stroke-width="0.7" stroke-linecap="butt"/>
<circle cx="553.3" cy="334.3" r="29.2" stroke="#1e1e1e" stroke-width="0.9" fill="none"/>
<circle cx="553.3" cy="334.3" r="24.1" stroke="#1e1e1e" stroke-width="0.9" fill="none"/>
<circle cx="553.3" cy="334.3" r="11.6" stroke="#1e1e1e" stroke-width="1.1" fill="none"/>
<line x1="541.00" y1="334.30" x2="566.00" y2="334.30" stroke="#3c3c3c" stroke-width="0.6" stroke-linecap="butt"/>
<line x1="553.30" y1="322.00" x2="553.30" y2="347.00" stroke="#3c3c3c" stroke-width="0.6" stroke-linecap="butt"/>
<line x1="502.70" y1="314.00" x2="502.70" y2="378.00" stroke="#3c3c3c" stroke-width="0.7" stroke-dasharray="7,2" stroke-linecap="butt"/>
<line x1="604.90" y1="314.00" x2="604.90" y2="378.00" stroke="#3c3c3c" stroke-width="0.7" stroke-dasharray="7,2" stroke-linecap="butt"/>
<line x1="480.80" y1="367.80" x2="480.80" y2="405.00" stroke="#3c3c3c" stroke-width="0.75" stroke-linecap="butt"/>
<line x1="626.70" y1="367.80" x2="626.70" y2="405.00" stroke="#3c3c3c" stroke-width="0.75" stroke-linecap="butt"/>
<line x1="480.80" y1="401.10" x2="626.70" y2="401.10" stroke="#3c3c3c" stroke-width="0.75" stroke-linecap="butt"/>
<path d="M480.80,401.10 L488.80,399.40 L488.80,402.80 Z" fill="#1e1e1e" stroke="none"/>
<path d="M626.70,401.10 L618.70,402.80 L618.70,399.40 Z" fill="#1e1e1e" stroke="none"/>
<text x="0" y="0" font-size="10" text-anchor="middle" fill="#111" stroke="#111" stroke-width="0.0" transform="translate(554 399.2) scale(0.95 1)">25,9</text>
<path d="M132.7,512.3 H77 V589.5 H132.7" stroke="#1e1e1e" stroke-width="1.1" fill="none" />
<path d="M205.5,512.3 H253.6 V589.5 H205.5" stroke="#1e1e1e" stroke-width="1.1" fill="none" />
<line x1="80.80" y1="514.00" x2="80.80" y2="588.00" stroke="#3c3c3c" stroke-width="0.6" stroke-linecap="butt"/>
<line x1="250.80" y1="514.00" x2="250.80" y2="588.00" stroke="#3c3c3c" stroke-width="0.6" stroke-linecap="butt"/>
<path d="M80.8,531.5 H105.2 M80.8,533.1 H105.2 M80.8,569.2 H105.2 M80.8,571.5 H105.2" stroke="#3c3c3c" stroke-width="0.7" fill="none" />
<ellipse cx="105.2" cy="550.5" rx="4.8" ry="20.3" stroke="#1e1e1e" stroke-width="1" fill="#fff"/>
<path d="M226.8,531.5 H250.8 M226.8,533.1 H250.8 M226.8,569.2 H250.8 M226.8,571.5 H250.8" stroke="#3c3c3c" stroke-width="0.7" fill="none" />
<ellipse cx="226.8" cy="550.5" rx="4.6" ry="20.3" stroke="#1e1e1e" stroke-width="1" fill="#fff"/>
<ellipse cx="169.1" cy="550.5" rx="47.5" ry="44.5" stroke="#1e1e1e" stroke-width="1.0" fill="#fff"/>
<circle cx="169.1" cy="550.5" r="44.1" stroke="#1e1e1e" stroke-width="0.8" fill="none"/>
<path d="M128,512.3 Q133,512.5 136.5,518.5" stroke="#1e1e1e" stroke-width="0.9" fill="none" />
<path d="M210,512.3 Q205.5,512.5 202,518" stroke="#1e1e1e" stroke-width="0.9" fill="none" />
<path d="M128,589.5 Q133,589.3 136.5,583.5" stroke="#1e1e1e" stroke-width="0.9" fill="none" />
<path d="M210,589.5 Q205.5,589.3 202,584" stroke="#1e1e1e" stroke-width="0.9" fill="none" />
<clipPath id="lugA"><path clip-rule="evenodd" d="M150,440 H260 V512.3 H150 Z M121.6,550.5 A47.5,44.5 0 1 0 216.6,550.5 A47.5,44.5 0 1 0 121.6,550.5 Z"/></clipPath>
<clipPath id="lugB"><path clip-rule="evenodd" d="M80,589.5 H200 V640 H80 Z M121.6,550.5 A47.5,44.5 0 1 0 216.6,550.5 A47.5,44.5 0 1 0 121.6,550.5 Z"/></clipPath>
<g clip-path="url(#lugA)"><circle cx="202.9" cy="500.3" r="22.5" stroke="#1e1e1e" stroke-width="1.1" fill="#fff"/><path d="M222,508.5 Q224,512.3 230,512.3 H240" stroke="#1e1e1e" stroke-width="1" fill="#fff"/><path d="M183.5,511 Q181,507 180.6,503" stroke="#1e1e1e" stroke-width="1" fill="none"/><circle cx="202.9" cy="500.3" r="17" stroke="#3c3c3c" stroke-width="0.8" fill="none"/></g>
<g clip-path="url(#lugB)"><circle cx="132.7" cy="601.7" r="22.5" stroke="#1e1e1e" stroke-width="1.1" fill="#fff"/><path d="M113.5,593.5 Q111.5,589.5 105.5,589.5 H95" stroke="#1e1e1e" stroke-width="1" fill="#fff"/><circle cx="132.7" cy="601.7" r="17" stroke="#3c3c3c" stroke-width="0.8" fill="none"/></g>
<line x1="192.40" y1="512.30" x2="217.00" y2="512.30" stroke="#3c3c3c" stroke-width="0.8" stroke-linecap="butt"/>
<line x1="116.00" y1="589.50" x2="155.00" y2="589.50" stroke="#3c3c3c" stroke-width="0.8" stroke-linecap="butt"/>
<circle cx="202.9" cy="500.3" r="13.5" stroke="#1e1e1e" stroke-width="1.0" fill="#fff"/>
<circle cx="202.9" cy="500.3" r="12.0" stroke="#1e1e1e" stroke-width="0.9" fill="none"/>
<circle cx="202.9" cy="500.3" r="9.6" stroke="#1e1e1e" stroke-width="1.0" fill="none"/>
<circle cx="132.7" cy="601.7" r="13.5" stroke="#1e1e1e" stroke-width="1.0" fill="#fff"/>
<circle cx="132.7" cy="601.7" r="12.0" stroke="#1e1e1e" stroke-width="0.9" fill="none"/>
<circle cx="132.7" cy="601.7" r="9.6" stroke="#1e1e1e" stroke-width="1.0" fill="none"/>
<polygon points="169.10,592.80 132.47,571.65 132.47,529.35 169.10,508.20 205.73,529.35 205.73,571.65" stroke="#1e1e1e" stroke-width="1.1" fill="none"/>
<circle cx="169.1" cy="550.5" r="36.9" stroke="#3c3c3c" stroke-width="0.7" fill="none"/>
<circle cx="169.1" cy="550.5" r="23.1" stroke="#1e1e1e" stroke-width="2.2" fill="none"/>
<circle cx="169.1" cy="550.5" r="18.9" stroke="#1e1e1e" stroke-width="0.9" fill="none"/>
<circle cx="169.1" cy="550.5" r="14.2" stroke="#1e1e1e" stroke-width="0.9" fill="none"/>
<circle cx="169.1" cy="550.5" r="12" stroke="#1e1e1e" stroke-width="0.9" fill="none"/>
<circle cx="169.1" cy="550.5" r="3.8" stroke="#1e1e1e" stroke-width="0.9" fill="none"/>
<circle cx="169.1" cy="550.5" r="1.5" stroke="#1e1e1e" stroke-width="0" fill="#1e1e1e"/>
<line x1="63.00" y1="550.50" x2="270.80" y2="550.50" stroke="#3c3c3c" stroke-width="0.6" stroke-dasharray="12,2.5,2,2.5" stroke-linecap="butt"/>
<line x1="169.10" y1="440.00" x2="169.10" y2="640.00" stroke="#3c3c3c" stroke-width="0.6" stroke-dasharray="12,2.5,2,2.5" stroke-linecap="butt"/>
<line x1="176.00" y1="500.30" x2="222.00" y2="500.30" stroke="#3c3c3c" stroke-width="0.6" stroke-dasharray="12,2.5,2,2.5" stroke-linecap="butt"/>
<line x1="202.90" y1="476.00" x2="202.90" y2="525.00" stroke="#3c3c3c" stroke-width="0.6" stroke-dasharray="12,2.5,2,2.5" stroke-linecap="butt"/>
<line x1="106.00" y1="601.80" x2="160.00" y2="601.80" stroke="#3c3c3c" stroke-width="0.6" stroke-dasharray="12,2.5,2,2.5" stroke-linecap="butt"/>
<line x1="132.70" y1="578.00" x2="132.70" y2="632.00" stroke="#3c3c3c" stroke-width="0.6" stroke-dasharray="12,2.5,2,2.5" stroke-linecap="butt"/>
<line x1="41.50" y1="550.80" x2="60.00" y2="550.80" stroke="#1e1e1e" stroke-width="2.0" stroke-linecap="butt"/>
<line x1="47.40" y1="580.00" x2="47.40" y2="560.00" stroke="#1e1e1e" stroke-width="0.8" stroke-linecap="butt"/>
<path d="M47.40,552.00 L50.30,562.00 L44.50,562.00 Z" fill="#1e1e1e" stroke="none"/>
<line x1="270.80" y1="550.80" x2="287.70" y2="550.80" stroke="#1e1e1e" stroke-width="2.0" stroke-linecap="butt"/>
<line x1="283.00" y1="578.50" x2="283.00" y2="560.00" stroke="#1e1e1e" stroke-width="0.8" stroke-linecap="butt"/>
<path d="M283.00,552.00 L285.90,562.00 L280.10,562.00 Z" fill="#1e1e1e" stroke="none"/>
<line x1="131.50" y1="415.00" x2="131.50" y2="512.00" stroke="#3c3c3c" stroke-width="0.75" stroke-linecap="butt"/>
<line x1="202.90" y1="415.00" x2="202.90" y2="478.00" stroke="#3c3c3c" stroke-width="0.75" stroke-linecap="butt"/>
<line x1="131.50" y1="421.00" x2="202.90" y2="421.00" stroke="#3c3c3c" stroke-width="0.75" stroke-linecap="butt"/>
<path d="M131.50,421.00 L139.50,419.30 L139.50,422.70 Z" fill="#1e1e1e" stroke="none"/>
<path d="M202.90,421.00 L194.90,422.70 L194.90,419.30 Z" fill="#1e1e1e" stroke="none"/>
<text x="0" y="0" font-size="10" text-anchor="middle" fill="#111" stroke="#111" stroke-width="0.0" transform="translate(168.3 420.3) scale(0.95 1)">12,5</text>
<line x1="155.50" y1="449.30" x2="216.40" y2="449.30" stroke="#3c3c3c" stroke-width="0.75" stroke-linecap="butt"/>
<path d="M169.10,449.30 L161.10,451.10 L161.10,447.50 Z" fill="#1e1e1e" stroke="none"/>
<path d="M202.90,449.30 L210.90,447.50 L210.90,451.10 Z" fill="#1e1e1e" stroke="none"/>
<text x="0" y="0" font-size="10" text-anchor="middle" fill="#111" stroke="#111" stroke-width="0.0" transform="translate(186 449) scale(0.95 1)">6</text>
<text x="0" y="0" font-size="10" text-anchor="middle" fill="#111" stroke="#111" stroke-width="0.0" transform="translate(245.7 475) scale(0.95 1)">M4</text>
<line x1="230.30" y1="475.30" x2="252.20" y2="475.30" stroke="#3c3c3c" stroke-width="0.75" stroke-linecap="butt"/>
<line x1="230.30" y1="475.30" x2="196.00" y2="506.00" stroke="#3c3c3c" stroke-width="0.75" stroke-linecap="butt"/>
<path d="M213.40,492.40 L217.16,486.31 L219.33,488.38 Z" fill="#1e1e1e" stroke="none"/>
<text x="0" y="0" font-size="10" text-anchor="middle" fill="#111" stroke="#111" stroke-width="0.0" transform="translate(95.5 626.3) scale(0.95 1)">M4</text>
<line x1="83.00" y1="627.60" x2="107.50" y2="627.60" stroke="#3c3c3c" stroke-width="0.75" stroke-linecap="butt"/>
<line x1="107.50" y1="627.60" x2="139.50" y2="594.50" stroke="#3c3c3c" stroke-width="0.75" stroke-linecap="butt"/>
<path d="M123.50,610.50 L119.57,616.48 L117.46,614.35 Z" fill="#1e1e1e" stroke="none"/>
<line x1="222.00" y1="500.30" x2="313.00" y2="500.30" stroke="#3c3c3c" stroke-width="0.75" stroke-linecap="butt"/>
<line x1="160.00" y1="601.60" x2="313.00" y2="601.60" stroke="#3c3c3c" stroke-width="0.75" stroke-linecap="butt"/>
<line x1="310.80" y1="500.30" x2="310.80" y2="601.60" stroke="#3c3c3c" stroke-width="0.75" stroke-linecap="butt"/>
<path d="M310.80,500.30 L312.50,508.30 L309.10,508.30 Z" fill="#1e1e1e" stroke="none"/>
<path d="M310.80,601.60 L309.10,593.60 L312.50,593.60 Z" fill="#1e1e1e" stroke="none"/>
<text x="0" y="0" font-size="10" text-anchor="middle" fill="#111" stroke="#111" stroke-width="0.0" transform="translate(308.2 549.2) rotate(-90) scale(0.95 1)">18</text>
<rect x="313.2" y="544" width="2.80" height="3.20" rx="0" stroke="#555" stroke-width="0.7" fill="none"/>
<rect x="313.2" y="551.5" width="2.80" height="3.20" rx="0" stroke="#555" stroke-width="0.7" fill="none"/>
<rect x="442.7" y="508.4" width="170.80" height="113.20" rx="0" stroke="#1e1e1e" stroke-width="0" fill="#fafafa"/>
<rect x="482.5" y="537.7" width="83.80" height="42.50" rx="0" stroke="#3a3a3a" stroke-width="1.1" fill="none"/>
<line x1="524.90" y1="537.80" x2="524.90" y2="580.80" stroke="#3a3a3a" stroke-width="1.1" stroke-linecap="butt"/>
<rect x="450.4" y="548.8" width="32.10" height="23.20" rx="0" stroke="#3a3a3a" stroke-width="1.1" fill="none"/>
<line x1="466.00" y1="550.70" x2="460.50" y2="571.50" stroke="#3a3a3a" stroke-width="1.0" stroke-linecap="butt"/>
<line x1="509.90" y1="537.80" x2="499.80" y2="574.00" stroke="#3a3a3a" stroke-width="1.0" stroke-linecap="butt"/>
<path d="M498.10,580.30 L497.78,572.94 L502.21,574.18 Z" fill="#3a3a3a" stroke="none"/>
<line x1="509.90" y1="572.60" x2="520.00" y2="572.60" stroke="#3a3a3a" stroke-width="1.0" stroke-linecap="butt"/>
<line x1="515.00" y1="572.60" x2="515.00" y2="580.80" stroke="#3a3a3a" stroke-width="1.0" stroke-linecap="butt"/>
<line x1="530.40" y1="572.60" x2="539.20" y2="572.60" stroke="#3a3a3a" stroke-width="1.0" stroke-linecap="butt"/>
<line x1="534.80" y1="572.60" x2="534.80" y2="587.10" stroke="#3a3a3a" stroke-width="1.0" stroke-linecap="butt"/>
<line x1="553.60" y1="532.20" x2="553.60" y2="596.00" stroke="#3a3a3a" stroke-width="1.0" stroke-linecap="butt"/>
<path d="M553.60,539.40 L557.10,547.00 L550.10,547.00 Z" fill="#3a3a3a" stroke="none"/>
<circle cx="553.6" cy="603" r="6.9" stroke="#3a3a3a" stroke-width="1.0" fill="none"/>
<circle cx="553.6" cy="603" r="1.9" stroke="#1e1e1e" stroke-width="0" fill="#222"/>
<text x="0" y="0" font-size="10" text-anchor="middle" fill="#333" stroke="#333" stroke-width="0.0" transform="translate(563 531.3) scale(0.95 1)">1</text>
<text x="0" y="0" font-size="10" text-anchor="middle" fill="#333" stroke="#333" stroke-width="0.0" transform="translate(530.4 596) scale(0.95 1)">2</text>
<text x="0" y="0" font-size="10" text-anchor="middle" fill="#333" stroke="#333" stroke-width="0.0" transform="translate(564.3 594.3) scale(0.95 1)">3</text>
<path d="M566.3,552.5 L571.8,544.6 L578.1,568.7 L585,544.6 L591.5,568.7 L597.4,544.6 L600.9,555.7" stroke="#444" stroke-width="1.0" fill="none" />
</svg></body></html>
